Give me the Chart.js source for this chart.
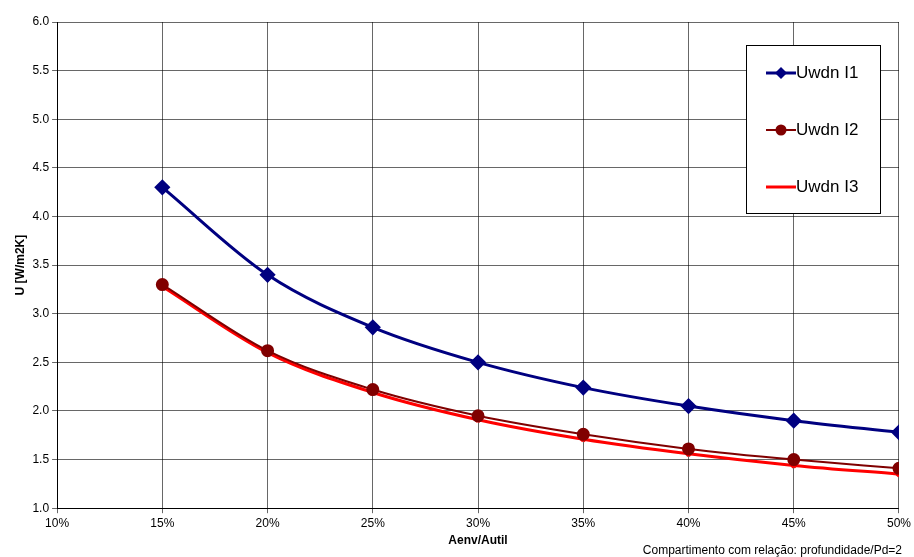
<!DOCTYPE html>
<html><head><meta charset="utf-8">
<script src="https://cdn.jsdelivr.net/npm/chart.js@4"></script>
<style>
body{margin:0;background:#fff;font-family:"Liberation Sans",Arial,sans-serif}
#wrap{position:relative;width:914px;height:557px}
#note{position:absolute;right:12px;bottom:0px;font-size:12px;color:#000}
</style></head><body>
<div id="wrap"><canvas id="c" width="914" height="548"></canvas>
<div id="note">Compartimento com relação: profundidade/Pd=2</div></div>
<script>
// Data
const ratios = [0.15, 0.20, 0.25, 0.30, 0.35, 0.40, 0.45, 0.50];
const uwdnI1 = [4.30, 3.40, 2.86, 2.50, 2.24, 2.05, 1.90, 1.78];
const uwdnI2 = [3.30, 2.62, 2.22, 1.95, 1.76, 1.61, 1.50, 1.41];
const uwdnI3 = [3.28, 2.60, 2.19, 1.91, 1.71, 1.56, 1.44, 1.35];

const pts = arr => ratios.map((x, i) => ({x: x, y: arr[i]}));

// legend box inside plot
const boxLegend = {
  id: 'boxLegend',
  afterDraw(chart) {
    const c = chart.ctx;
    const x0 = 746, y0 = 45, w = 134, h = 168;
    c.save();
    c.fillStyle = '#fff'; c.fillRect(x0, y0, w, h);
    c.strokeStyle = '#000'; c.lineWidth = 1; c.strokeRect(x0 + .5, y0 + .5, w, h);
    chart.data.datasets.forEach((ds, i) => {
      const y = y0 + 28 + i * 57;
      c.strokeStyle = ds.borderColor; c.lineWidth = ds.borderWidth;
      c.beginPath(); c.moveTo(x0 + 20, y); c.lineTo(x0 + 50, y); c.stroke();
      c.fillStyle = ds.pointBackgroundColor;
      c.beginPath();
      if (ds.pointStyle === 'rectRot') { c.moveTo(x0+35,y-6); c.lineTo(x0+41,y); c.lineTo(x0+35,y+6); c.lineTo(x0+29,y); c.closePath(); c.fill(); }
      else if (ds.pointStyle === 'circle') { c.arc(x0+35, y, 5.5, 0, Math.PI*2); c.fill(); }
      c.fillStyle = '#000'; c.font = '17px "Liberation Sans", Arial';
      c.textBaseline = 'middle'; c.fillText(ds.label, x0 + 50, y);
    });
    c.restore();
  }
};

new Chart(document.getElementById('c'), {
  type: 'line',
  data: {
    datasets: [
      {label: 'Uwdn I1', data: pts(uwdnI1), borderColor: '#000080', backgroundColor: '#000080',
       pointBackgroundColor: '#000080', borderWidth: 3, pointStyle: 'rectRot', pointRadius: 6, cubicInterpolationMode: 'monotone'},
      {label: 'Uwdn I2', data: pts(uwdnI2), borderColor: '#800000', backgroundColor: '#800000',
       pointBackgroundColor: '#800000', borderWidth: 2, pointStyle: 'circle', pointRadius: 5.5, cubicInterpolationMode: 'monotone'},
      {label: 'Uwdn I3', data: pts(uwdnI3), borderColor: '#ff0000', backgroundColor: '#ff0000',
       pointBackgroundColor: '#ff0000', borderWidth: 3, pointStyle: 'crossRot', pointRadius: 3, cubicInterpolationMode: 'monotone'}
    ]
  },
  options: {
    responsive: false, animation: false,
    layout: {padding: {left: 11, right: 14, top: 22, bottom: 0}},
    plugins: {legend: {display: false}, tooltip: {enabled: false}},
    scales: {
      x: {type: 'linear', min: 0.10, max: 0.50,
        ticks: {stepSize: 0.05, color: '#000', font: {size: 12, family: '"Liberation Sans", Arial'},
          callback: v => Math.round(v * 100) + '%'},
        grid: {color: '#000', lineWidth: 0.6, tickLength: 5},
        border: {color: '#000'},
        title: {display: true, text: 'Aenv/Autil', color: '#000', font: {size: 12, weight: 'bold', family: '"Liberation Sans", Arial'}, padding: 0}},
      y: {min: 1.0, max: 6.0,
        ticks: {stepSize: 0.5, color: '#000', font: {size: 12, family: '"Liberation Sans", Arial'},
          callback: v => v.toFixed(1)},
        grid: {color: '#000', lineWidth: 0.6, tickLength: 5},
        border: {color: '#000'},
        title: {display: true, text: 'U [W/m2K]', color: '#000', font: {size: 12, weight: 'bold', family: '"Liberation Sans", Arial'}, padding: 2}}
    }
  },
  plugins: [boxLegend]
});
</script></body></html>
